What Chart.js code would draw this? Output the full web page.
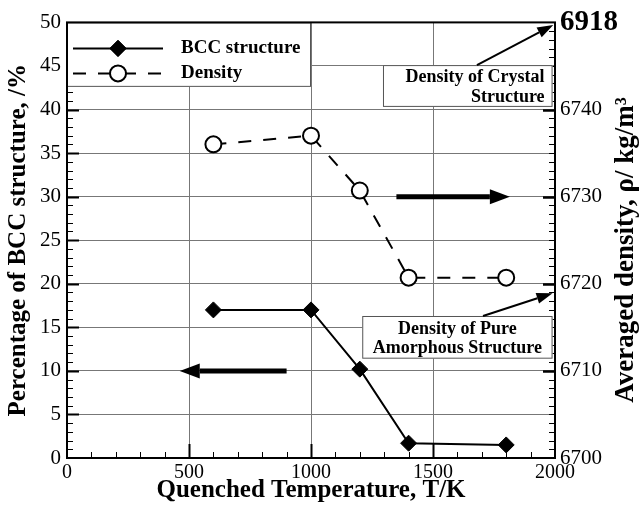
<!DOCTYPE html>
<html>
<head>
<meta charset="utf-8">
<script src="https://cdn.jsdelivr.net/npm/chart.js@4"></script>
<style>
html, body { margin: 0; padding: 0; background: #fff; }
</style>
</head>
<body>
<canvas id="chart" width="642" height="507"></canvas>
<script>
// ======================================================
// Data
// ======================================================

const temps = [600, 1000, 1200, 1400, 1800];
const bccPercent = [17, 17, 10.2, 1.7, 1.5];
const density = [6736.0, 6737.0, 6730.7, 6720.7, 6720.7];

const xTicks = [0, 500, 1000, 1500, 2000];
const leftTicks = [0, 5, 10, 15, 20, 25, 30, 35, 40, 45, 50];
const rightTicks = [6700, 6710, 6720, 6730, 6740, 6750];
const rightTickLabels = ["6700", "6710", "6720", "6730", "6740", "6918"];

const seriesNames = ["BCC structure", "Density"];
const crystalNote = ["Density of Crystal", "Structure"];
const amorphousNote = ["Density of Pure", "Amorphous Structure"];

// ======================================================
// Styling
// ======================================================

const SERIF = "'Liberation Serif', 'Times New Roman', serif";
const GRID = "#777";

function px(chart, x, y, axis) {
    return [
        chart.scales.x.getPixelForValue(x),
        chart.scales[axis || "y"].getPixelForValue(y)
    ];
}

function arrow(ctx, x1, y1, x2, y2, w, headLen, headW) {
    const a = Math.atan2(y2 - y1, x2 - x1);
    const bx = x2 - Math.cos(a) * headLen;
    const by = y2 - Math.sin(a) * headLen;
    ctx.save();
    ctx.strokeStyle = "#000";
    ctx.fillStyle = "#000";
    ctx.lineWidth = w;
    ctx.beginPath();
    ctx.moveTo(x1, y1);
    ctx.lineTo(bx, by);
    ctx.stroke();
    ctx.beginPath();
    ctx.moveTo(x2, y2);
    ctx.lineTo(bx + Math.sin(a) * headW, by - Math.cos(a) * headW);
    ctx.lineTo(bx - Math.sin(a) * headW, by + Math.cos(a) * headW);
    ctx.closePath();
    ctx.fill();
    ctx.restore();
}

function whiteBox(ctx, chart, x0, x1, y0, y1) {
    const [l, t] = px(chart, x0, y1);
    const [r, b] = px(chart, x1, y0);
    ctx.save();
    ctx.fillStyle = "#fff";
    ctx.fillRect(l, t, r - l, b - t);
    ctx.strokeStyle = "#555";
    ctx.lineWidth = 1;
    ctx.strokeRect(l + 0.5, t + 0.5, r - l - 1, b - t - 1);
    ctx.restore();
    return {l, t, r, b};
}

// ======================================================
// Decoration plugin: inward ticks, boxes, arrows, legend
// ======================================================

const decor = {
    id: "decor",
    beforeDatasetsDraw(chart) {
        const ctx = chart.ctx;
        const a = chart.chartArea;
        const sx = chart.scales.x;
        const sy = chart.scales.y;
        const sy2 = chart.scales.y2;

        ctx.save();
        ctx.strokeStyle = "#000";

        // bottom ticks
        for (let v = 100; v < 2000; v += 100) {
            const x = Math.round(sx.getPixelForValue(v)) + 0.5;
            const major = v % 500 === 0;
            ctx.lineWidth = major ? 2 : 1;
            ctx.beginPath();
            ctx.moveTo(x, a.bottom);
            ctx.lineTo(x, a.bottom - (major ? 14 : 6));
            ctx.stroke();
        }
        // left ticks
        for (let v = 1; v < 50; v++) {
            const y = Math.round(sy.getPixelForValue(v)) + 0.5;
            const major = v % 5 === 0;
            ctx.lineWidth = major ? 2 : 1;
            ctx.beginPath();
            ctx.moveTo(a.left, y);
            ctx.lineTo(a.left + (major ? 12 : 6), y);
            ctx.stroke();
        }
        // right ticks
        for (let v = 6701; v < 6750; v++) {
            const y = Math.round(sy2.getPixelForValue(v)) + 0.5;
            const major = v % 10 === 0;
            ctx.lineWidth = major ? 2.5 : 1;
            ctx.beginPath();
            ctx.moveTo(a.right, y);
            ctx.lineTo(a.right - (major ? 12 : 6), y);
            ctx.stroke();
        }
        ctx.restore();

        // legend box and note boxes
        whiteBox(ctx, chart, 0, 1000, 42.6, 50);
        const b1 = whiteBox(ctx, chart, 1295, 1990, 40.3, 45.1);
        const b2 = whiteBox(ctx, chart, 1210, 1990, 11.4, 16.3);

        ctx.save();
        ctx.fillStyle = "#000";
        ctx.font = "bold 18px " + SERIF;
        ctx.textBaseline = "middle";
        ctx.textAlign = "right";
        ctx.fillText(crystalNote[0], b1.r - 8, b1.t + 12);
        ctx.fillText(crystalNote[1], b1.r - 8, b1.t + 32);
        ctx.textAlign = "center";
        const cx = (b2.l + b2.r) / 2;
        ctx.fillText(amorphousNote[0], cx, b2.t + 13);
        ctx.fillText(amorphousNote[1], cx, b2.t + 32);
        ctx.restore();

        // frame
        ctx.save();
        ctx.strokeStyle = "#000";
        ctx.lineWidth = 2;
        ctx.strokeRect(a.left, a.top, a.right - a.left, a.bottom - a.top);
        ctx.restore();
    },
    afterDatasetsDraw(chart) {
        const ctx = chart.ctx;
        const a = chart.chartArea;

        // thick direction arrows
        let p = px(chart, 1350, 30), q = px(chart, 1815, 30);
        arrow(ctx, p[0], p[1], q[0], q[1], 5, 20, 7.5);
        p = px(chart, 900, 10); q = px(chart, 462, 10);
        arrow(ctx, p[0], p[1], q[0], q[1], 5, 20, 7.5);

        // note arrows
        p = px(chart, 1680, 45.1); q = px(chart, 1993, 49.7);
        arrow(ctx, p[0], p[1], q[0], q[1], 2, 16, 5.5);
        p = px(chart, 1705, 16.3); q = px(chart, 1990, 18.9);
        arrow(ctx, p[0], p[1], q[0], q[1], 2, 16, 5.5);

        // legend entries
        const rows = [a.top + 26, a.top + 51];
        const x0 = a.left + 6, x1 = a.left + 96, xm = a.left + 51;
        chart.data.datasets.forEach((ds, i) => {
            const y = rows[i];
            ctx.save();
            ctx.strokeStyle = "#000";
            ctx.lineWidth = 2;
            ctx.setLineDash(ds.borderDash || []);
            ctx.beginPath();
            ctx.moveTo(x0, y);
            ctx.lineTo(x1, y);
            ctx.stroke();
            ctx.setLineDash([]);
            ctx.restore();
            Chart.helpers.drawPoint(ctx, {
                pointStyle: ds.pointStyle,
                radius: ds.pointRadius,
                borderWidth: ds.pointBorderWidth
            }, xm, y);
            ctx.save();
            ctx.fillStyle = ds.pointBackgroundColor;
            ctx.strokeStyle = "#000";
            ctx.lineWidth = ds.pointBorderWidth;
            ctx.fill();
            ctx.stroke();
            ctx.fillStyle = "#000";
            ctx.font = "bold 19px " + SERIF;
            ctx.textBaseline = "middle";
            ctx.textAlign = "left";
            ctx.fillText(ds.label, a.left + 114, y);
            ctx.restore();
        });

        // right axis title (reads bottom to top)
        ctx.save();
        ctx.translate(626, 250);
        ctx.rotate(-Math.PI / 2);
        ctx.fillStyle = "#000";
        ctx.font = "bold 27px " + SERIF;
        ctx.textAlign = "center";
        ctx.textBaseline = "middle";
        ctx.fillText("Averaged density, \u03c1/ kg/m\u00b3", 0, 0);
        ctx.restore();
    }
};

// ======================================================
// Chart
// ======================================================

new Chart(document.getElementById("chart"), {
    type: "line",
    data: {
        datasets: [
            {
                label: seriesNames[0],
                data: temps.map((t, i) => ({x: t, y: bccPercent[i]})),
                yAxisID: "y",
                borderColor: "#000",
                borderWidth: 2,
                pointStyle: "rectRot",
                pointRadius: 8,
                pointBackgroundColor: "#000",
                pointBorderColor: "#000",
                pointBorderWidth: 1
            },
            {
                label: seriesNames[1],
                data: temps.map((t, i) => ({x: t, y: density[i]})),
                yAxisID: "y2",
                borderColor: "#000",
                borderWidth: 2,
                borderDash: [13, 12],
                pointStyle: "circle",
                pointRadius: 8,
                pointBackgroundColor: "#fff",
                pointBorderColor: "#000",
                pointBorderWidth: 2
            }
        ]
    },
    options: {
        responsive: false,
        animation: false,
        layout: {padding: {top: 16, left: 0, right: 0, bottom: 0}},
        plugins: {
            legend: {display: false},
            tooltip: {enabled: false}
        },
        scales: {
            x: {
                type: "linear",
                min: 0,
                max: 2000,
                afterBuildTicks: s => { s.ticks = xTicks.map(v => ({value: v})); },
                afterFit: s => { s.height = 49; },
                grid: {color: GRID, lineWidth: 1, drawTicks: false},
                border: {display: false},
                ticks: {
                    color: "#000",
                    font: {family: SERIF, size: 20},
                    padding: 3,
                    maxRotation: 0,
                    autoSkip: false,
                    callback: v => String(v)
                },
                title: {
                    display: true,
                    text: "Quenched Temperature, T/K",
                    color: "#000",
                    font: {family: SERIF, size: 25, weight: "bold"},
                    padding: {top: 0, bottom: 1}
                }
            },
            y: {
                position: "left",
                min: 0,
                max: 50,
                afterBuildTicks: s => { s.ticks = leftTicks.map(v => ({value: v})); },
                afterFit: s => { s.width = 67; },
                grid: {color: GRID, lineWidth: 1, drawTicks: false},
                border: {display: false},
                ticks: {
                    color: "#000",
                    font: {family: SERIF, size: 21},
                    padding: 6
                },
                title: {
                    display: true,
                    text: "Percentage of BCC structure, /%",
                    color: "#000",
                    font: {family: SERIF, size: 25, weight: "bold"},
                    padding: {top: 4}
                }
            },
            y2: {
                position: "right",
                min: 6700,
                max: 6750,
                afterBuildTicks: s => { s.ticks = rightTicks.map(v => ({value: v})); },
                afterFit: s => { s.width = 87; },
                grid: {display: false, drawTicks: false},
                border: {display: false},
                ticks: {
                    color: "#000",
                    padding: 5,
                    callback: (v, i) => rightTickLabels[i],
                    font: c => c.index === rightTicks.length - 1
                        ? {family: SERIF, size: 29, weight: "bold"}
                        : {family: SERIF, size: 21}
                }
            }
        }
    },
    plugins: [decor]
});
</script>
</body>
</html>
